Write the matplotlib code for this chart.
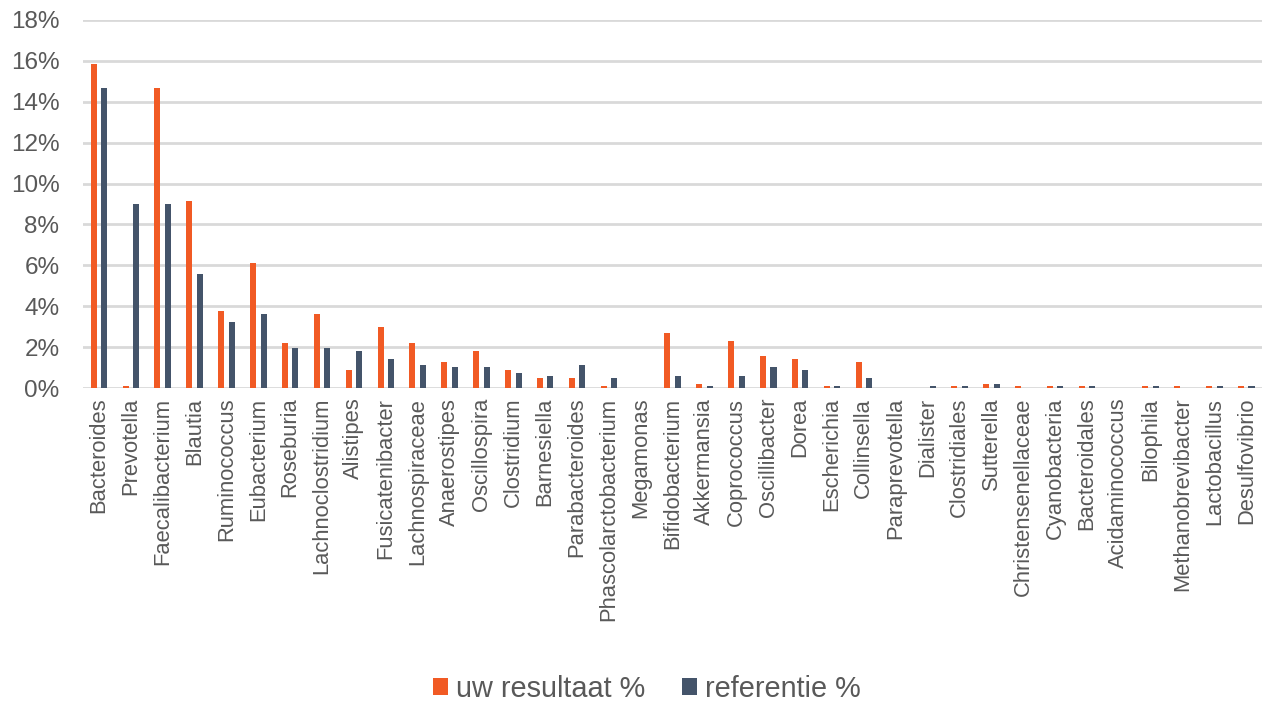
import numpy as np
import matplotlib
matplotlib.use('Agg')
import matplotlib.pyplot as plt
from matplotlib.ticker import PercentFormatter

categories = ['Bacteroides', 'Prevotella', 'Faecalibacterium', 'Blautia', 'Ruminococcus',
              'Eubacterium', 'Roseburia', 'Lachnoclostridium', 'Alistipes', 'Fusicatenibacter',
              'Lachnospiraceae', 'Anaerostipes', 'Oscillospira', 'Clostridium', 'Barnesiella',
              'Parabacteroides', 'Phascolarctobacterium', 'Megamonas', 'Bifidobacterium',
              'Akkermansia', 'Coprococcus', 'Oscillibacter', 'Dorea', 'Escherichia', 'Collinsella',
              'Paraprevotella', 'Dialister', 'Clostridiales', 'Sutterella', 'Christensenellaceae',
              'Cyanobacteria', 'Bacteroidales', 'Acidaminococcus', 'Bilophila',
              'Methanobrevibacter', 'Lactobacillus', 'Desulfovibrio']

uw_resultaat = [15.85, 0.1, 14.65, 9.15, 3.77, 6.13, 2.2, 3.64, 0.89, 2.99,
                2.18, 1.28, 1.8, 0.88, 0.5, 0.5, 0.08, 0.0, 2.7,
                0.22, 2.32, 1.55, 1.4, 0.08, 1.28,
                0.0, 0.0, 0.08, 0.22, 0.08,
                0.08, 0.08, 0.0, 0.08,
                0.08, 0.08, 0.08]

referentie = [14.65, 9.02, 9.02, 5.6, 3.25, 3.64, 1.95, 1.95, 1.8, 1.41,
              1.14, 1.01, 1.01, 0.75, 0.6, 1.14, 0.5, 0.0, 0.6,
              0.08, 0.6, 1.01, 0.87, 0.08, 0.5,
              0.0, 0.08, 0.08, 0.22, 0.0,
              0.08, 0.08, 0.0, 0.08,
              0.0, 0.08, 0.08]

orange = '#F15A24'
blue = '#44546A'
grey_text = '#595959'

plt.rcParams['font.family'] = ['Liberation Sans', 'DejaVu Sans']

fig = plt.figure(figsize=(12.66, 7.01), dpi=100)
ax = fig.add_axes([0.0656, 0.4465, 0.9314, 0.525])

x = np.arange(len(categories))
w = 0.19
ax.bar(x - 0.165, uw_resultaat, w, color=orange, label='uw resultaat %', zorder=3)
ax.bar(x + 0.165, referentie, w, color=blue, label='referentie %', zorder=3)

ax.set_xlim(-0.5, len(categories) - 0.5)
ax.set_ylim(0, 18)
ax.set_yticks(np.arange(0, 19, 2))
ax.yaxis.set_major_formatter(PercentFormatter(decimals=0))
ax.grid(axis='y', color='#D9D9D9', linewidth=2, zorder=0)
for s in ax.spines.values():
    s.set_visible(False)
ax.tick_params(axis='both', length=0, colors=grey_text)
ax.tick_params(axis='y', labelsize=17.5, pad=17)
ax.set_xticks(x)
ax.set_xticklabels(categories, rotation=90, fontsize=15.8, color=grey_text)
ax.tick_params(axis='x', pad=7)

fig.legend(loc='lower center', bbox_to_anchor=(0.511, -0.04), ncol=2, frameon=False,
           fontsize=20.8, handlelength=0.52, handleheight=0.52, handletextpad=0.25,
           columnspacing=1.3, labelcolor=grey_text)

fig.savefig('out.png', dpi=100)
